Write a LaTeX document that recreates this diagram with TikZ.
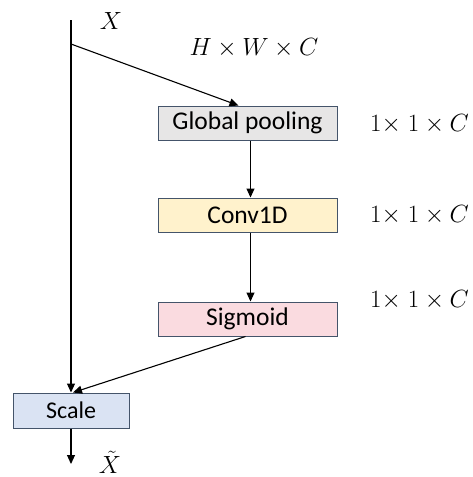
\documentclass[tikz,border=0pt]{standalone}
\usepackage{fontspec}
\setmainfont{Carlito}
\usetikzlibrary{arrows.meta,calc}
\definecolor{edgeblue}{RGB}{68,84,106}
\definecolor{poolfill}{RGB}{231,230,230}
\definecolor{convfill}{RGB}{255,242,204}
\definecolor{sigfill}{RGB}{250,219,224}
\definecolor{scalefill}{RGB}{218,227,243}
\begin{document}
\begin{tikzpicture}[x=1pt,y=-1pt,
  block/.style={draw=edgeblue,line width=1pt,minimum height=34pt,inner sep=0pt,
    font=\fontsize{24}{28}\selectfont},
  wide/.style={block,minimum width=179pt,font=\fontsize{25.5}{30}\selectfont},
  conn/.style={line width=1.1pt,-{Triangle[length=9pt,width=8pt]}},
  mathlbl/.style={inner sep=0pt,font=\fontsize{23.5}{28}\selectfont},
  dimlbl/.style={inner sep=0pt,anchor=west,font=\fontsize{23.5}{28}\selectfont}]
\useasboundingbox (0,0) rectangle (472,477);

% processing blocks
\node[wide,fill=poolfill] (gp) at (247.5,123) {Global pooling};
\node[wide,fill=convfill] (cv) at (247.5,215) {Conv1D};
\node[wide,fill=sigfill] (sg) at (247.5,319) {Sigmoid};
\node[block,fill=scalefill,minimum width=116pt,minimum height=35pt] (sc) at (71,410.5) {Scale};

% input line, branch point and output end
\coordinate (in) at (71,20);
\coordinate (br) at (71,44);
\coordinate (out) at (71,464);

% labels
\node[mathlbl] (xin) at (111,21) {$X$};
\node[mathlbl] (hwc) at (254,48) {$H\times W\times C$};
\node[dimlbl] (d1) at (370,124) {$1{\times}\;1\times C$};
\node[dimlbl] (d2) at (370,215) {$1{\times}\;1\times C$};
\node[dimlbl] (d3) at (370,300) {$1{\times}\;1\times C$};
\node[mathlbl] (xout) at (110,462) {$\tilde{X}$};

% connectors
\draw[conn] (in) -- (sc.north);
\draw[conn] (br) -- ($(gp.north)+(-9,0)$);
\draw[conn] ($(gp.south)+(3,0)$) -- ($(cv.north)+(3,0)$);
\draw[conn] ($(cv.south)+(3,0)$) -- ($(sg.north)+(3,0)$);
\draw[conn] ($(sg.south)+(-2,0)$) -- ($(sc.north)+(2,0)$);
\draw[conn] (sc.south) -- (out);
\end{tikzpicture}
\end{document}
